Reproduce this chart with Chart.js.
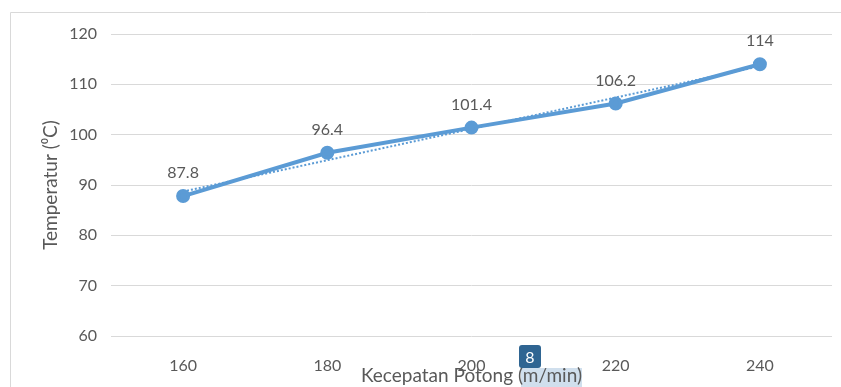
<!DOCTYPE html>
<html>
<head>
<meta charset="utf-8">
<script src="https://cdn.jsdelivr.net/npm/chart.js@4/dist/chart.umd.min.js"></script>
<style>
  html, body { margin: 0; padding: 0; background: #fff; }
  #wrap { position: relative; width: 841px; height: 387px; }
</style>
</head>
<body>
<div id="wrap"><canvas id="c" width="841" height="387"></canvas></div>
<script>
// Cutting speed (m/min) vs. temperature (°C)
const speeds = ['160', '180', '200', '220', '240'];
const temperatures = [87.8, 96.4, 101.4, 106.2, 114];
// Linear trend line end points (first and last category)
const trendEnds = [88.7, 113.6];
const yTicks = [60, 70, 80, 90, 100, 110, 120];

const BLUE = '#5b9bd5';
const TEXT = '#595959';
const GRID = '#d9d9d9';
const FONT = 'Lato, "Open Sans", sans-serif';

const trendSeries = speeds.map((_, i) =>
  i === 0 ? trendEnds[0] : (i === speeds.length - 1 ? trendEnds[1] : null));

// Frame around the chart, value labels, and the page-number badge
const extras = {
  id: 'extras',
  beforeDraw(chart) {
    const ctx = chart.ctx;
    ctx.save();
    ctx.strokeStyle = GRID;
    ctx.lineWidth = 1;
    ctx.beginPath();
    ctx.moveTo(10.5, 400);
    ctx.lineTo(10.5, 12.5);
    ctx.lineTo(850, 12.5);
    ctx.stroke();
    // highlight behind part of the axis title
    ctx.fillStyle = 'rgba(150,185,215,0.45)';
    ctx.fillRect(521, 368, 61, 19);
    ctx.restore();
  },
  afterDatasetsDraw(chart) {
    const ctx = chart.ctx;
    const meta = chart.getDatasetMeta(0);
    ctx.save();
    ctx.font = '16px ' + FONT;
    ctx.fillStyle = TEXT;
    ctx.textAlign = 'center';
    ctx.textBaseline = 'middle';
    meta.data.forEach((pt, i) => {
      ctx.fillText(String(temperatures[i]), pt.x, pt.y - 23);
    });
    ctx.restore();
  },
  afterDraw(chart) {
    const ctx = chart.ctx;
    ctx.save();
    ctx.fillStyle = '#2f6592';
    const x = 519, y = 345, w = 22, h = 23, r = 3;
    ctx.beginPath();
    ctx.roundRect(x, y, w, h, r);
    ctx.fill();
    ctx.fillStyle = '#ffffff';
    ctx.font = '16px ' + FONT;
    ctx.textAlign = 'center';
    ctx.textBaseline = 'middle';
    ctx.fillText('8', x + w / 2, y + h / 2 + 1);
    ctx.restore();
  }
};

new Chart(document.getElementById('c'), {
  type: 'line',
  data: {
    labels: speeds,
    datasets: [
      {
        data: temperatures,
        borderColor: BLUE,
        backgroundColor: BLUE,
        borderWidth: 4,
        pointRadius: 5,
        pointHoverRadius: 5,
        pointBackgroundColor: BLUE,
        pointBorderColor: BLUE,
        tension: 0,
        order: 1
      },
      {
        data: trendSeries,
        spanGaps: true,
        borderColor: BLUE,
        borderWidth: 2,
        borderDash: [2, 2],
        pointRadius: 0,
        tension: 0,
        order: 2
      }
    ]
  },
  options: {
    responsive: false,
    animation: false,
    devicePixelRatio: 1,
    layout: { padding: { top: 34, right: 8, bottom: 0, left: 0 } },
    plugins: { legend: { display: false }, tooltip: { enabled: false } },
    scales: {
      x: {
        offset: true,
        grid: { display: false },
        border: { display: false },
        ticks: { color: TEXT, font: { family: FONT, size: 16 }, padding: 12 },
        title: {
          display: true,
          text: 'Kecepatan Potong (m/min)',
          color: TEXT,
          font: { family: FONT, size: 19 },
          padding: { top: -6, bottom: 0 }
        },
        afterFit(scale) { scale.height = 51; }
      },
      y: {
        min: 60,
        max: 120,
        afterBuildTicks(scale) { scale.ticks = yTicks.map(v => ({ value: v })); },
        grid: { color: GRID, lineWidth: 1, drawTicks: false },
        border: { display: false },
        ticks: { color: TEXT, font: { family: FONT, size: 16 }, padding: 14 },
        title: {
          display: true,
          text: 'Temperatur (\u2070C)',
          color: TEXT,
          font: { family: FONT, size: 19 },
          padding: { top: 39, bottom: 0 }
        },
        afterFit(scale) { scale.width = 111; }
      }
    }
  },
  plugins: [extras]
});
</script>
</body>
</html>
